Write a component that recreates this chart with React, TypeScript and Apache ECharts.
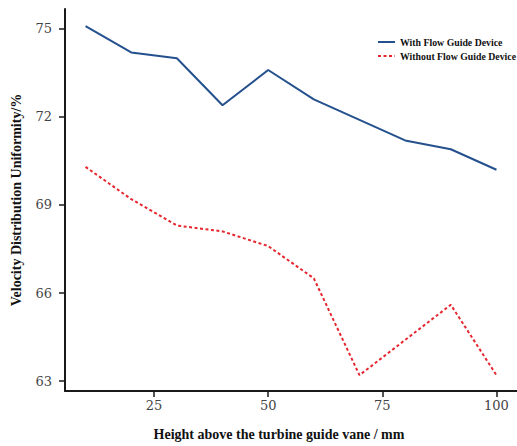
import React, { useEffect, useRef } from "react";
import * as echarts from "echarts";

const heights = [10, 20, 30, 40, 50, 60, 70, 80, 90, 100];
const withDevice = [75.1, 74.2, 74.0, 72.4, 73.6, 72.6, 71.9, 71.2, 70.9, 70.2];
const withoutDevice = [70.3, 69.2, 68.3, 68.1, 67.6, 66.5, 63.2, 64.4, 65.6, 63.2];
const xTicks = [25, 50, 75, 100];
const yTicks = [63, 66, 69, 72, 75];

export default function App() {
  const ref = useRef<HTMLDivElement>(null);
  useEffect(() => {
    document.body.style.margin = "0";
    const chart = echarts.init(ref.current!, null, { renderer: "svg" });
    const axisLine = { show: true, lineStyle: { color: "#1a1a1a", width: 2 } };
    const tickLabelStyle = { fontFamily: "DejaVu Serif", fontSize: 13, color: "#444" };
    const titleStyle = { fontFamily: "Liberation Serif", fontWeight: "bold" as const, fontSize: 14, color: "#111" };
    chart.setOption({
      animation: false,
      backgroundColor: "#ffffff",
      grid: { left: 65, top: 9, width: 458, height: 384.4, containLabel: false },
      legend: {
        orient: "vertical",
        left: 372,
        top: 32,
        itemWidth: 17,
        itemHeight: 8,
        itemGap: 4,
        itemStyle: { opacity: 0 },
        textStyle: { fontFamily: "Liberation Serif", fontWeight: "bold", fontSize: 9.8, color: "#111" },
        data: ["With Flow Guide Device", "Without Flow Guide Device"],
      },
      xAxis: {
        type: "value",
        min: 5.5,
        max: 104.5,
        name: "Height above the turbine guide vane / mm",
        nameLocation: "middle",
        nameGap: 36,
        nameTextStyle: { ...titleStyle, padding: [0, 24, 0, 0] },
        axisLine,
        splitLine: { show: false },
        axisTick: { show: true, length: 6, customValues: xTicks, lineStyle: { color: "#1a1a1a", width: 1.5 } },
        axisLabel: { margin: 8, customValues: xTicks, ...tickLabelStyle },
      },
      yAxis: {
        type: "value",
        min: 62.66,
        max: 75.68,
        name: "Velocity Distribution Uniformity/%",
        nameLocation: "middle",
        nameGap: 42,
        nameTextStyle: titleStyle,
        axisLine,
        splitLine: { show: false },
        axisTick: { show: true, length: 6, customValues: yTicks, lineStyle: { color: "#1a1a1a", width: 1.5 } },
        axisLabel: { margin: 13, customValues: yTicks, ...tickLabelStyle },
      },
      series: [
        {
          name: "With Flow Guide Device",
          type: "line",
          symbol: "none",
          data: heights.map((h, i) => [h, withDevice[i]]),
          lineStyle: { color: "#24508e", width: 2 },
          itemStyle: { color: "#24508e" },
        },
        {
          name: "Without Flow Guide Device",
          type: "line",
          symbol: "none",
          data: heights.map((h, i) => [h, withoutDevice[i]]),
          lineStyle: { color: "#e5262e", width: 2, type: [3, 2.5] },
          itemStyle: { color: "#e5262e" },
        },
      ],
    });
    return () => chart.dispose();
  }, []);
  return <div ref={ref} style={{ width: 517, height: 446 }} />;
}
